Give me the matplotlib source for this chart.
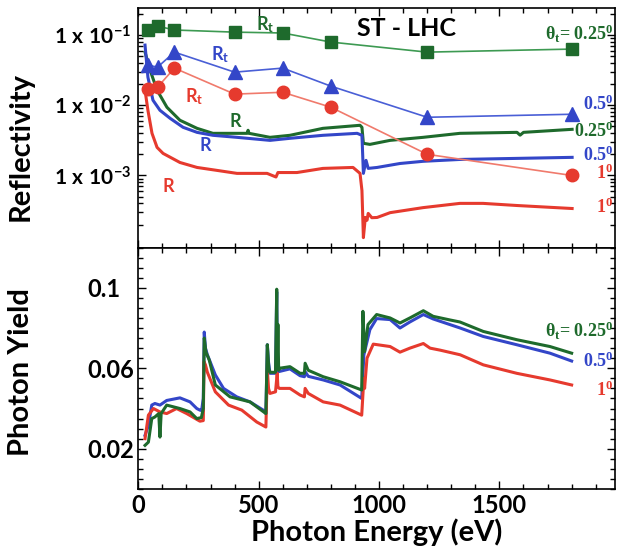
import numpy as np
import matplotlib
matplotlib.use("Agg")
import matplotlib.pyplot as plt
import matplotlib.ticker as mtick

plt.rcParams['mathtext.fontset'] = 'custom'
plt.rcParams['mathtext.rm'] = 'Liberation Serif:bold'
plt.rcParams['mathtext.bf'] = 'Lato:bold'
plt.rcParams['mathtext.it'] = 'Liberation Serif:bold'

GREEN = '#1e6a2c'
GREEN_LT = '#3d9a52'
BLUE = '#3346c8'
BLUE_LT = '#4a5fd6'
RED = '#e63a2e'
RED_LT = '#f07a6c'

# total reflectivity R_t, measured points
rt_energy = [40, 80, 150, 400, 600, 800, 1200, 1800]
rt_025 = [0.118, 0.134, 0.118, 0.110, 0.107, 0.0794, 0.0571, 0.0631]
rt_05 = [0.0373, 0.0349, 0.0571, 0.0296, 0.0338, 0.0187, 0.00674, 0.00744]
rt_1 = [0.0169, 0.0181, 0.0338, 0.0144, 0.0153, 0.00936, 0.0020, 0.0010]

# specular reflectivity R scans
r025_e = [28, 49, 78, 119, 173, 244, 310, 381, 452, 456, 460, 547, 630, 767, 921,
          929, 935, 962, 1046, 1183, 1336, 1573, 1586, 1600, 1802]
r025_v = [0.0571, 0.0316, 0.0164, 0.00936, 0.00611, 0.00469, 0.00398, 0.00398, 0.00398,
          0.00440, 0.00398, 0.00349, 0.00373, 0.00469, 0.00518, 0.00485, 0.00287, 0.00277,
          0.00316, 0.00349, 0.00398, 0.00411, 0.00375, 0.00411, 0.00454]
r05_e = [28, 40, 61, 90, 132, 186, 244, 310, 410, 547, 630, 767, 909, 929, 935,
         946, 955, 992, 1087, 1183, 1336, 1573, 1802]
r05_v = [0.0719, 0.0251, 0.0118, 0.00848, 0.00652, 0.00485, 0.00411, 0.00373, 0.00349,
         0.00316, 0.00338, 0.00373, 0.00398, 0.00373, 0.00107, 0.00164, 0.00126, 0.00130,
         0.00148, 0.00159, 0.00169, 0.00175, 0.00181]
r1_e = [28, 40, 57, 78, 103, 173, 244, 327, 410, 535, 572, 580, 659, 767, 892, 921,
        929, 935, 943, 950, 955, 970, 992, 1046, 1183, 1336, 1432, 1573, 1802]
r1_v = [0.0164, 0.00848, 0.00398, 0.00251, 0.00206, 0.00153, 0.00130, 0.00118, 0.00107,
        0.00107, 0.00095, 0.00110, 0.00110, 0.00126, 0.00130, 0.00107, 0.00061, 0.000130,
        0.000252, 0.000230, 0.000288, 0.000250, 0.000252, 0.000295, 0.000348, 0.000400,
        0.000400, 0.000373, 0.000338]

# photon yield scans
py025_e = [28, 35, 42, 56, 69, 85, 90, 95, 118, 173, 215, 243, 262, 270, 274, 281, 295,
           320, 381, 464, 530, 536, 542, 547, 570, 575, 577, 580, 583, 586, 630, 672,
           690, 693, 706, 768, 838, 928, 933, 940, 954, 990, 1046, 1087, 1128, 1184, 1225,
           1295, 1336, 1433, 1572, 1710, 1800]
py025_v = [0.0217, 0.0225, 0.0233, 0.035, 0.0358, 0.0375, 0.0258, 0.0375, 0.0417, 0.040,
           0.0383, 0.035, 0.0355, 0.040, 0.075, 0.068, 0.064, 0.0517, 0.0458, 0.0433,
           0.0375, 0.0717, 0.060, 0.058, 0.058, 0.0993, 0.060, 0.0818, 0.059, 0.060,
           0.0608, 0.0575, 0.0575, 0.0625, 0.059, 0.0558, 0.0533, 0.0492, 0.0883, 0.0683,
           0.0817, 0.0867, 0.085, 0.0825, 0.085, 0.0886, 0.0858, 0.0840, 0.0830, 0.0783,
           0.0742, 0.0708, 0.0675]
py05_e = [28, 42, 56, 69, 90, 118, 173, 215, 243, 256, 263, 270, 274, 279, 287, 320,
          354, 409, 464, 519, 530, 536, 541, 547, 570, 575, 578, 582, 630, 672,
          690, 693, 706, 768, 838, 928, 937, 962, 990, 1046, 1087, 1128, 1184, 1225,
          1337, 1433, 1572, 1710, 1800]
py05_v = [0.0267, 0.0316, 0.0417, 0.0425, 0.0417, 0.044, 0.0453, 0.0433, 0.040, 0.0392,
          0.0390, 0.045, 0.078, 0.070, 0.0667, 0.0567, 0.050, 0.0458, 0.0433, 0.0392,
          0.0375, 0.0717, 0.063, 0.0575, 0.0575, 0.098, 0.060, 0.0583, 0.0597, 0.0563,
          0.0558, 0.0583, 0.0560, 0.0542, 0.0517, 0.045, 0.0667, 0.0792, 0.0847, 0.0842,
          0.080, 0.0830, 0.0867, 0.0845, 0.080, 0.0758, 0.0717, 0.0675, 0.0636]
py1_e = [28, 42, 63, 90, 118, 159, 201, 256, 270, 273, 279, 287, 320, 375, 430, 492,
         530, 536, 541, 547, 570, 577, 580, 586, 630, 672,
         690, 693, 706, 768, 838, 928, 937, 940, 950, 976, 1046, 1087, 1128, 1184, 1212,
         1254, 1337, 1433, 1572, 1710, 1800]
py1_v = [0.025, 0.0367, 0.040, 0.0383, 0.0375, 0.040, 0.0375, 0.0337, 0.034, 0.0633,
         0.0617, 0.058, 0.0483, 0.0417, 0.0392, 0.0333, 0.0308, 0.059, 0.050, 0.0475,
         0.0483, 0.0575, 0.0508, 0.0500, 0.050, 0.0467, 0.0458, 0.050, 0.0475, 0.0433,
         0.0417, 0.0367, 0.055, 0.050, 0.065, 0.072, 0.0708, 0.068, 0.0700, 0.0723,
         0.070, 0.0690, 0.0667, 0.0617, 0.0575, 0.0542, 0.0517]

fig = plt.figure(figsize=(6.19, 5.54), dpi=100)
ax1 = fig.add_axes([0.2234, 0.5532, 0.7701, 0.4324])
ax2 = fig.add_axes([0.2234, 0.1173, 0.7701, 0.4359], sharex=ax1)

bold_sans = dict(family='Lato', weight='bold')
serif = dict(family='Liberation Serif', weight='bold')

# reflectivity panel
ax1.set_yscale('log')
ax1.plot(r025_e, r025_v, color=GREEN, lw=2.2)
ax1.plot(r05_e, r05_v, color=BLUE, lw=2.2)
ax1.plot(r1_e, r1_v, color=RED, lw=2.2)
ax1.plot(rt_energy, rt_025, color=GREEN_LT, lw=1.2, marker='s', ms=9,
         mfc=GREEN, mec=GREEN)
ax1.plot(rt_energy, rt_05, color=BLUE_LT, lw=1.2, marker='^', ms=10,
         mfc=BLUE, mec=BLUE)
ax1.plot(rt_energy, rt_1, color=RED_LT, lw=1.2, marker='o', ms=9,
         mfc=RED, mec=RED)
ax1.set_ylim(9.4e-5, 0.243)
ax1.set_yticks([1e-3, 1e-2, 1e-1])
ax1.set_yticklabels([r'$\mathbf{1\ x\ 10^{-3}}$', r'$\mathbf{1\ x\ 10^{-2}}$',
                     r'$\mathbf{1\ x\ 10^{-1}}$'], fontsize=15)
ax1.yaxis.set_minor_locator(mtick.LogLocator(subs=np.arange(2, 10)))
ax1.yaxis.set_minor_formatter(mtick.NullFormatter())
# tick labels start at a common left edge
ax1.tick_params(axis='y', which='major', pad=61)
for lab in ax1.get_yticklabels():
    lab.set_ha('left')
ax1.set_ylabel('Reflectivity', fontsize=21, **bold_sans)
ax1.yaxis.set_label_coords(-0.219, 0.42)

ax1.text(1112, 0.126, 'ST - LHC', fontsize=18, ha='center', va='center', **bold_sans)
for e, r, c in [(526, 0.139, GREEN), (340, 0.0518, BLUE), (232, 0.0134, RED)]:
    ax1.text(e, r, r'R$_\mathbf{t}$', color=c, fontsize=13, ha='center', va='center',
             **bold_sans)
for e, r, c in [(402, 0.0059, GREEN), (277, 0.00268, BLUE), (124, 0.000697, RED)]:
    ax1.text(e, r, 'R', color=c, fontsize=13, ha='center', va='center', **bold_sans)

right_top = [(0.1034, r'$\theta_t$= 0.25$^0$', GREEN), (0.0103, r'0.5$^0$', BLUE),
             (0.00425, r'0.25$^0$', GREEN), (0.00193, r'0.5$^0$', BLUE),
             (0.00107, r'1$^0$', RED), (0.000348, r'1$^0$', RED)]
for r, s, c in right_top:
    ax1.text(1972, r, s, color=c, fontsize=13, ha='right', va='center', **serif)

# photon yield panel
ax2.plot(py05_e, py05_v, color=BLUE, lw=2.2)
ax2.plot(py1_e, py1_v, color=RED, lw=2.2)
ax2.plot(py025_e, py025_v, color=GREEN, lw=2.2)
ax2.set_ylim(0, 0.12)
ax2.set_yticks([0.02, 0.06, 0.1])
ax2.set_yticklabels(['0.02', '0.06', '0.1'], fontsize=17, **bold_sans)
ax2.yaxis.set_minor_locator(mtick.MultipleLocator(0.005))
ax2.tick_params(axis='y', which='major', pad=36.5)
for lab in ax2.get_yticklabels():
    lab.set_ha('left')
ax2.set_ylabel('Photon Yield', fontsize=21, **bold_sans)
ax2.yaxis.set_label_coords(-0.219, 0.484)
ax2.set_xlabel('Photon Energy (eV)', fontsize=21, labelpad=1, **bold_sans)

right_bot = [(0.0787, r'$\theta_t$= 0.25$^0$', GREEN), (0.0637, r'0.5$^0$', BLUE),
             (0.0492, r'1$^0$', RED)]
for v, s, c in right_bot:
    ax2.text(1972, v, s, color=c, fontsize=13, ha='right', va='center', **serif)

ax2.set_xlim(0, 1980)
ax2.xaxis.set_minor_locator(mtick.MultipleLocator(100))
ax2.set_xticks([0, 500, 1000, 1500])
ax2.set_xticklabels(['0', '500', '1000', '1500'], fontsize=17, **bold_sans)
ax1.tick_params(labelbottom=False)

for ax in (ax1, ax2):
    ax.tick_params(which='both', direction='in', top=True, right=True, width=1.0)
    ax.tick_params(which='major', length=6)
    ax.tick_params(which='minor', length=3.5)
    for sp in ax.spines.values():
        sp.set_linewidth(1.2)

fig.savefig('out.png', dpi=100)
